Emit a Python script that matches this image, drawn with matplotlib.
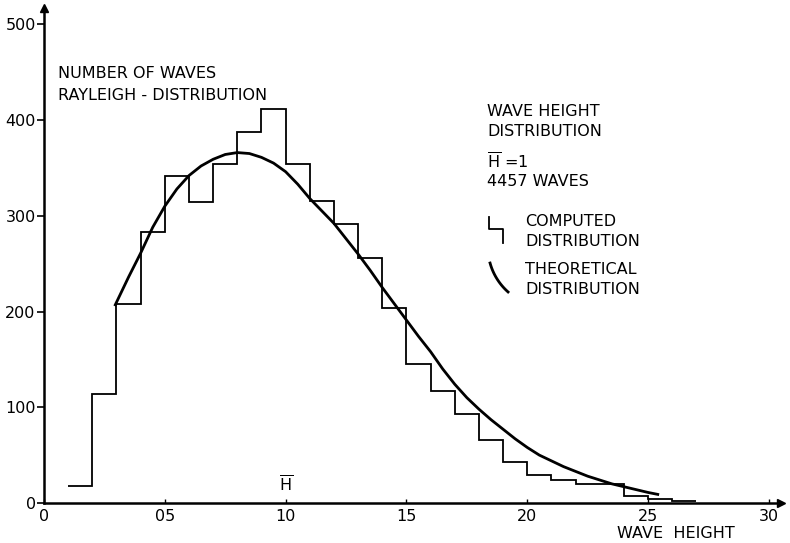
import numpy as np
import matplotlib
matplotlib.use('Agg')
import matplotlib.pyplot as plt

# histogram of computed wave heights (bin edges in units of 0.1 H)
bin_edges = list(range(1, 28))
counts = [18, 114, 208, 283, 342, 314, 354, 387, 411, 354, 315, 291, 256,
          204, 145, 117, 93, 66, 43, 29, 24, 20, 20, 7, 4, 2]

# theoretical Rayleigh curve
curve_x = [2.95, 3.5, 4, 4.5, 5, 5.5, 6, 6.5, 7, 7.5, 8, 8.5, 9, 9.5, 10,
           10.5, 11, 11.5, 12, 12.5, 13, 13.5, 14, 14.5, 15, 15.5, 16, 16.5,
           17, 17.5, 18, 18.5, 19, 19.5, 20, 20.5, 21, 21.5, 22, 22.5, 23,
           23.5, 24, 24.5, 25, 25.4]
curve_y = [207, 236, 261, 288, 310, 328, 342, 352, 359, 364, 366, 365, 361,
           355, 346, 333, 318, 305, 292, 276, 260, 243, 225, 208, 191, 174,
           158, 140, 124, 110, 98, 87, 77, 67, 58, 50, 44, 38, 33, 28, 24,
           20, 17, 14, 11, 9]

xticks = [0, 5, 10, 15, 20, 25, 30]
xtick_labels = ['0', '05', '10', '15', '20', '25', '30']
yticks = [0, 100, 200, 300, 400, 500]

plt.rcParams['mathtext.fontset'] = 'dejavusans'

W, H = 790, 543
fig = plt.figure(figsize=(W / 100, H / 100), dpi=100)
# axes box in pixels: left 44, right 781, bottom 503, top 8
ax = fig.add_axes([44 / W, (H - 503) / H, 737 / W, 495 / H])
ax.set_xlim(0, 30.5)
ax.set_ylim(0, 517)

for s in ['top', 'right']:
    ax.spines[s].set_visible(False)
for s in ['left', 'bottom']:
    ax.spines[s].set_linewidth(1.8)
ax.plot(1, 0, '>k', ms=6, transform=ax.get_yaxis_transform(), clip_on=False)
ax.plot(0, 1, '^k', ms=6, transform=ax.get_xaxis_transform(), clip_on=False)

ax.stairs(counts, bin_edges, baseline=None, color='k', lw=1.3)
ax.plot(curve_x, curve_y, color='k', lw=2.0)

ax.set_xticks(xticks)
ax.set_xticklabels(xtick_labels)
ax.set_yticks(yticks)
ax.tick_params(axis='x', direction='in', length=3, width=1, labelsize=11.5, pad=4)
ax.tick_params(axis='y', direction='out', length=5, width=1.2, labelsize=11.5, pad=1)

fs = 11.5


def px(xp, yp):
    # pixel position -> axes fraction
    return (xp - 44) / 737, (503 - yp) / 495


def label(xp, yp, s, **kw):
    x, y = px(xp, yp)
    ax.text(x, y, s, transform=ax.transAxes, fontsize=fs, va='center', ha='left', **kw)


label(58, 73, 'NUMBER OF WAVES')
label(58, 96, 'RAYLEIGH - DISTRIBUTION')
label(487, 112, 'WAVE HEIGHT')
label(487, 131, 'DISTRIBUTION')
label(487, 162, r'$\overline{\mathrm{H}}$ =1')
label(487, 181, '4457 WAVES')
label(525, 222, 'COMPUTED')
label(525, 241, 'DISTRIBUTION')
label(525, 270, 'THEORETICAL')
label(525, 289, 'DISTRIBUTION')

# legend glyphs
sx, sy = zip(*[px(489, 217), px(489, 229), px(503, 229), px(503, 243)])
ax.plot(sx, sy, color='k', lw=1.3, transform=ax.transAxes, clip_on=False)
t = np.linspace(np.radians(195.4), np.radians(228.4), 30)
ax_, ay_ = px(547.9 + 60 * np.cos(t), 247.1 - 60 * np.sin(t))
ax.plot(ax_, ay_, color='k', lw=2.0, transform=ax.transAxes, clip_on=False)

ax.text(10, 19, r'$\overline{\mathrm{H}}$', fontsize=fs, ha='center', va='center')
xl, yl = px(676, 533)
ax.text(xl, yl, 'WAVE  HEIGHT', transform=ax.transAxes, fontsize=fs,
        ha='center', va='center')

fig.savefig('out.png', dpi=100)
